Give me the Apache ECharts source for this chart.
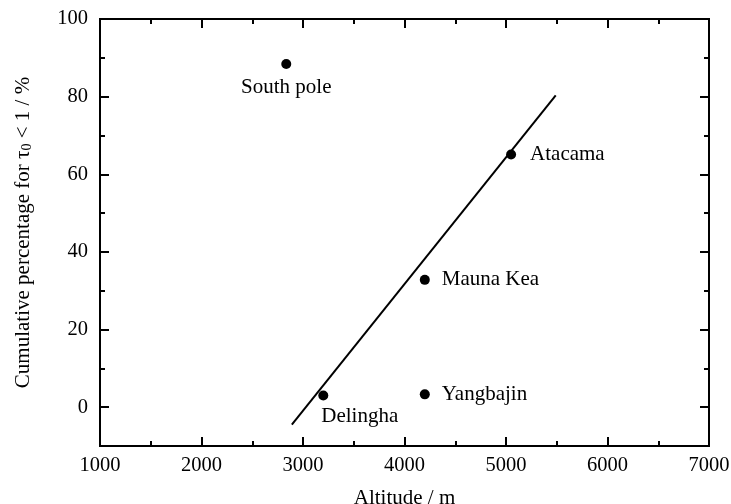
<!DOCTYPE html>
<html>
<head>
<meta charset="utf-8">
<script src="https://cdn.jsdelivr.net/npm/echarts@6/dist/echarts.min.js"></script>
<style>html,body{margin:0;padding:0;background:#fff}#c{width:731px;height:504px}</style>
</head>
<body>
<div id="c"></div>
<script>
var siteNames = ['South pole', 'Atacama', 'Mauna Kea', 'Yangbajin', 'Delingha'];
var altitudes = [2835, 5050, 4200, 4200, 3200];
var percentages = [88.4, 65.1, 32.8, 3.3, 3.0];
var fitAltitudes = [2890, 5490];
var fitPercentages = [-4.5, 80.3];
var yMajorTicks = [0, 20, 40, 60, 80, 100];

var font = 'Liberation Serif';
var labelPlacement = {
  'South pole': {position: 'bottom', distance: 8},
  'Atacama': {position: 'right', distance: 14},
  'Mauna Kea': {position: 'right', distance: 12},
  'Yangbajin': {position: 'right', distance: 12},
  'Delingha': {position: [3, 26], align: 'left', verticalAlign: 'middle'}
};
var scatterData = siteNames.map(function (n, i) {
  return {name: n, value: [altitudes[i], percentages[i]], label: labelPlacement[n]};
});
var fitData = fitAltitudes.map(function (x, i) { return [x, fitPercentages[i]]; });

var chart = echarts.init(document.getElementById('c'));
function plain(v) { return String(v); }
function xAx(pos, show) {
  return {
    type: 'value', position: pos, min: 1000, max: 7000, interval: 1000,
    name: show ? 'Altitude / m' : '', nameLocation: 'middle', nameGap: 42,
    nameTextStyle: {fontFamily: font, fontSize: 21, color: '#000'},
    axisLine: {show: true, onZero: false, lineStyle: {color: '#000', width: 2}},
    axisTick: {show: true, inside: true, length: 9, lineStyle: {color: '#000', width: 2}},
    minorTick: {show: true, splitNumber: 2, length: 5, lineStyle: {color: '#000', width: 2}},
    axisLabel: {show: show, margin: 9, formatter: plain, fontFamily: font, fontSize: 20.5, color: '#000'},
    splitLine: {show: false}, minorSplitLine: {show: false}
  };
}
function yMajor(pos, show) {
  return {
    type: 'value', position: pos, min: -10, max: 100,
    name: show ? 'Cumulative percentage for {t|τ}{s|0}{t| < 1 / %}' : '',
    nameLocation: 'middle', nameGap: 66,
    nameTextStyle: {fontFamily: font, fontSize: 21, color: '#000',
      rich: {t: {fontFamily: font, fontSize: 21, color: '#000'},
             s: {fontFamily: font, fontSize: 14, color: '#000', verticalAlign: 'bottom', padding: [8, 0, 0, 0]}}},
    axisLine: {show: true, onZero: false, lineStyle: {color: '#000', width: 2}},
    axisTick: {show: true, inside: true, length: 9, customValues: yMajorTicks, lineStyle: {color: '#000', width: 2}},
    axisLabel: {show: show, margin: 12, customValues: yMajorTicks, formatter: plain, fontFamily: font, fontSize: 20.5, color: '#000'},
    splitLine: {show: false}
  };
}
function yMinor(pos) {
  return {
    type: 'value', position: pos, min: -10, max: 100, interval: 10,
    axisLine: {show: false, onZero: false},
    axisTick: {show: true, inside: true, length: 5, lineStyle: {color: '#000', width: 2}},
    axisLabel: {show: false},
    splitLine: {show: false}
  };
}
chart.setOption({
  animation: false,
  backgroundColor: '#fff',
  grid: {left: 100, right: 22, top: 19, bottom: 58, outerBoundsMode: 'none', containLabel: false,
    show: true, borderColor: '#000', borderWidth: 2, backgroundColor: 'transparent'},
  xAxis: [xAx('bottom', true), xAx('top', false)],
  yAxis: [yMajor('left', true), yMinor('left'), yMajor('right', false), yMinor('right')],
  series: [
    {
      type: 'line', data: fitData, xAxisIndex: 0, yAxisIndex: 0,
      showSymbol: false, symbol: 'none',
      lineStyle: {color: '#000', width: 2}
    },
    {
      type: 'scatter', data: scatterData, xAxisIndex: 0, yAxisIndex: 0,
      symbol: 'circle', symbolSize: 10,
      itemStyle: {color: '#000', opacity: 1},
      label: {show: true, formatter: '{b}', fontFamily: font, fontSize: 21, color: '#000'}
    }
  ]
});
</script>
</body>
</html>
